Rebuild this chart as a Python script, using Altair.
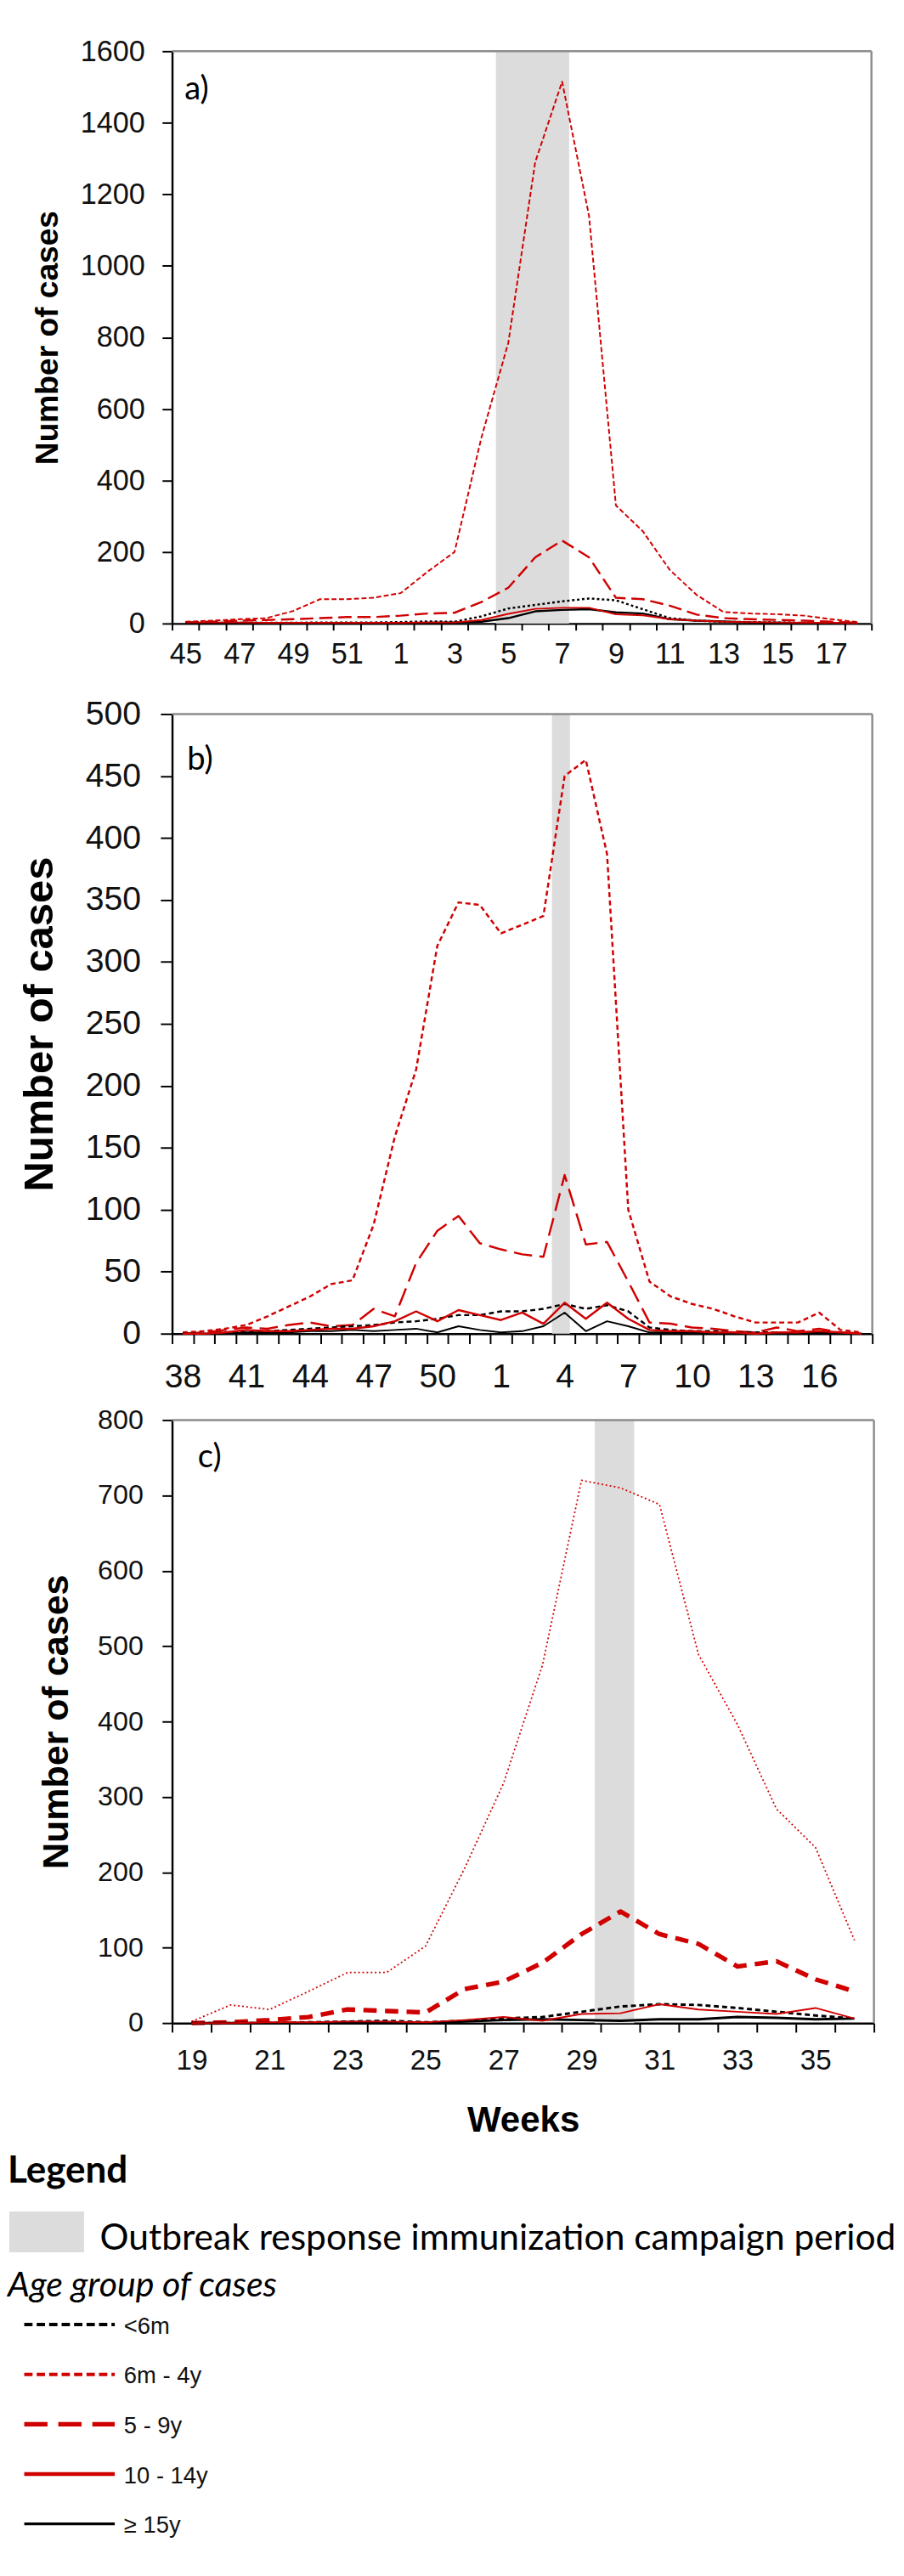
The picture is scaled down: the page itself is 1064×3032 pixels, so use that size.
import altair as alt
import pandas as pd

# ---------------- data ----------------
groups = ["<6m", "6m - 4y", "5 - 9y", "10 - 14y", "≥ 15y"]

weeks_a = [45, 46, 47, 48, 49, 50, 51, 52, 1, 2, 3, 4, 5, 6, 7, 8, 9, 10, 11, 12, 13, 14, 15, 16, 17, 18]
a_lt6m = [2, 2, 2, 2, 2, 3, 3, 3, 4, 6, 5, 20, 42, 52, 62, 70, 65, 40, 15, 8, 5, 4, 3, 2, 1, 0]
a_6m4y = [5, 8, 12, 15, 35, 68, 68, 72, 85, 145, 200, 520, 785, 1290, 1515, 1140, 330, 258, 150, 80, 32, 28, 26, 22, 12, 4]
a_5_9y = [3, 5, 8, 10, 12, 15, 18, 18, 22, 28, 30, 60, 100, 185, 232, 185, 72, 68, 50, 25, 15, 12, 10, 8, 5, 2]
a_10_14y = [3, 3, 3, 2, 2, 2, 2, 2, 2, 3, 3, 10, 27, 41, 44, 44, 26, 23, 12, 8, 5, 4, 3, 2, 2, 1]
a_15y = [1, 1, 1, 1, 1, 1, 1, 1, 1, 2, 3, 5, 15, 34, 38, 40, 31, 28, 12, 8, 6, 3, 2, 1, 1, 0]
a_campaign = [12.04, 14.76]

weeks_b = [38, 39, 40, 41, 42, 43, 44, 45, 46, 47, 48, 49, 50, 51, 52, 1, 2, 3, 4, 5, 6, 7, 8, 9, 10, 11, 12, 13, 14, 15, 16, 17, 18]
b_lt6m = [0, 0, 1, 1, 2, 3, 4, 5, 6, 7, 9, 10, 12, 15, 15, 18, 18, 20, 24, 20, 23, 18, 5, 3, 2, 2, 1, 1, 1, 1, 1, 0, 0]
b_6m4y = [1, 2, 4, 7, 14, 22, 30, 40, 43, 88, 159, 213, 313, 348, 346, 323, 330, 337, 450, 463, 387, 100, 42, 30, 24, 20, 14, 9, 9, 9, 17, 3, 1]
b_5_9y = [0, 1, 3, 5, 4, 7, 9, 6, 7, 20, 14, 57, 83, 95, 73, 68, 64, 62, 128, 72, 74, 42, 9, 8, 5, 4, 2, 1, 5, 2, 4, 1, 0]
b_10_14y = [0, 0, 1, 3, 2, 2, 3, 4, 4, 6, 10, 18, 10, 19, 15, 11, 17, 8, 25, 12, 25, 12, 3, 2, 2, 1, 1, 0, 1, 1, 2, 1, 0]
b_15y = [0, 0, 0, 1, 1, 1, 2, 2, 3, 2, 3, 4, 1, 6, 3, 1, 2, 6, 17, 2, 10, 6, 1, 1, 1, 0, 0, 0, 0, 0, 1, 0, 0]
b_campaign = [17.9, 18.75]

weeks_c = [19, 20, 21, 22, 23, 24, 25, 26, 27, 28, 29, 30, 31, 32, 33, 34, 35, 36]
c_lt6m = [0, 0, 0, 1, 2, 3, 1, 3, 6, 8, 15, 22, 25, 24, 20, 15, 10, 6]
c_6m4y = [2, 24, 18, 42, 67, 67, 102, 205, 318, 475, 720, 710, 688, 489, 396, 284, 233, 110]
c_5_9y = [0, 1, 4, 8, 18, 16, 14, 45, 55, 80, 118, 148, 118, 105, 75, 82, 58, 42]
c_10_14y = [0, 0, 1, 1, 2, 2, 1, 4, 8, 3, 12, 13, 25, 18, 15, 12, 20, 6]
c_15y = [0, 0, 0, 0, 1, 1, 0, 2, 4, 5, 4, 3, 5, 5, 8, 7, 5, 6]
c_campaign = [10.84, 11.85]

legend_title = "Legend"
campaign_label = "Outbreak response immunization campaign period"
age_title = "Age group of cases"
y_title = "Number of cases"
x_title = "Weeks"

# ---------------- styles ----------------
RED = "#d00000"
BLACK = "#000000"
SHADE = "#dcdcdc"
BORDER = "#8c8c8c"
AXFONT = "Liberation Sans"
NARROW = "Liberation Sans Narrow, Arial Narrow, Liberation Sans"
HUMFONT = "Lato"
LEFT = 198  # distance from the page margin to the plot origin of the panels

style_a = {
    "<6m": (BLACK, [3, 3], 2.5),
    "6m - 4y": (RED, [6, 3], 2),
    "5 - 9y": (RED, [16, 7], 2.5),
    "10 - 14y": (RED, None, 2),
    "≥ 15y": (BLACK, None, 2.5),
}
style_b = {
    "<6m": (BLACK, [6, 4], 2.5),
    "6m - 4y": (RED, [6, 4], 2.5),
    "5 - 9y": (RED, [22, 9], 2.5),
    "10 - 14y": (RED, None, 2.5),
    "≥ 15y": (BLACK, None, 2),
}
style_c = {
    "<6m": (BLACK, [6, 4], 3),
    "6m - 4y": (RED, [2, 3], 1.8),
    "5 - 9y": (RED, [16, 10], 5.5),
    "10 - 14y": (RED, None, 2),
    "≥ 15y": (BLACK, None, 3),
}
style_leg = {
    "<6m": (BLACK, [10, 5], 4),
    "6m - 4y": (RED, [10, 5], 4),
    "5 - 9y": (RED, [28, 13], 5.5),
    "10 - 14y": (RED, None, 4.5),
    "≥ 15y": (BLACK, None, 3.5),
}
draw_order = ["6m - 4y", "5 - 9y", "<6m", "≥ 15y", "10 - 14y"]


def mark_kw(st):
    color, dash, width = st
    kw = dict(color=color, strokeWidth=width)
    if dash:
        kw["strokeDash"] = dash
    return kw


def panel(weeks, series, campaign, ymax, ystep, label_step, tag, st, lay):
    n = len(weeks)
    rows = []
    for g, vals in zip(groups, series):
        for i, (w, v) in enumerate(zip(weeks, vals)):
            rows.append({"g": g, "week": str(w), "pos": i + 0.5, "cases": v})
    df = pd.DataFrame(rows)
    W, H = lay["W"], lay["H"]
    xscale = alt.Scale(domain=[0, n], nice=False, zero=False)
    yscale = alt.Scale(domain=[0, ymax], nice=False)
    labels = [str(weeks[i]) if (i < n and i % label_step == 0) else "" for i in range(n + 1)]
    label_expr = "[" + ",".join("'%s'" % s for s in labels) + "][datum.value]"
    xaxis_kw = dict(
        values=list(range(n + 1)), labelExpr=label_expr, labelOffset=W / n / 2,
        labelFont=lay["font"], labelFontSize=lay["xlfs"], labelColor="#111111",
        labelPadding=lay["xlp"], labelOverlap=False, labelFlush=False,
        tickSize=lay["xts"], tickWidth=2, tickColor=BLACK,
        domainColor=BLACK, domainWidth=2.5, grid=False,
    )
    if lay.get("xtitle"):
        xaxis_kw.update(title=lay["xtitle"], titleFont=AXFONT, titleFontSize=43,
                        titleFontWeight="bold", titlePadding=lay["xtp"], titleColor=BLACK)
    else:
        xaxis_kw.update(title=None)
    xaxis = alt.Axis(**xaxis_kw)
    yaxis = alt.Axis(
        values=list(range(0, ymax + 1, ystep)), format="d", title=y_title,
        titleFont=AXFONT, titleFontSize=lay["ytfs"], titleFontWeight="bold",
        titlePadding=lay["ytp"], titleColor=BLACK,
        labelFont=lay["font"], labelFontSize=lay["ylfs"], labelColor="#111111",
        labelPadding=lay["ylp"], labelOverlap=False, labelFlush=False,
        tickSize=lay["yts"], tickWidth=2, tickColor=BLACK,
        domainColor=BLACK, domainWidth=2.5, grid=False,
    )
    X = lambda f: alt.X(f, scale=xscale, axis=xaxis)
    Y = lambda f: alt.Y(f, scale=yscale, axis=yaxis)

    shade = alt.Chart(pd.DataFrame({"x0": [campaign[0]], "x1": [campaign[1]],
                                    "y0": [0], "y1": [ymax]})).mark_rect(color=SHADE).encode(
        x=X("x0:Q"), x2="x1:Q", y=Y("y1:Q"), y2="y0:Q")

    lines = []
    for g in draw_order:
        lines.append(
            alt.Chart(df[df["g"] == g]).mark_line(strokeJoin="round", **mark_kw(st[g])).encode(
                x=X("pos:Q"), y=Y("cases:Q"))
        )

    top = alt.Chart(pd.DataFrame({"v": [ymax]})).mark_rule(color=BORDER, strokeWidth=2.5).encode(
        y=Y("v:Q"))
    right = alt.Chart(pd.DataFrame({"v": [n]})).mark_rule(color=BORDER, strokeWidth=2.5).encode(
        x=X("v:Q"))

    tagc = alt.Chart(pd.DataFrame({"t": [tag]})).mark_text(
        align="left", baseline="middle", font=HUMFONT, fontSize=39, color=BLACK).encode(
        text="t:N", x=alt.value(lay["tx"]), y=alt.value(lay["ty"]))

    # invisible rule that fixes the panel's outer extent (left, top, bottom)
    bound = alt.Chart(pd.DataFrame({"k": [0]})).mark_rule(opacity=0, strokeOpacity=0).encode(
        x=alt.value(lay["bx"]), y=alt.value(lay["by1"]), y2=alt.value(lay["by2"]))

    return alt.layer(shade, *lines, top, right, tagc, bound).properties(width=W, height=H)


pa = panel(weeks_a, [a_lt6m, a_6m4y, a_5_9y, a_10_14y, a_15y], a_campaign, 1600, 200, 2, "a)", style_a,
           dict(W=842, H=689, font=NARROW, xlfs=35, xlp=12, xts=8, ytfs=38, ytp=19, ylfs=35, ylp=21, yts=12,
                bx=-198, by1=-18, by2=759, tx=15, ty=46))
pb = panel(weeks_b, [b_lt6m, b_6m4y, b_5_9y, b_10_14y, b_15y], b_campaign, 500, 50, 3, "b)", style_b,
           dict(W=843, H=746, font=AXFONT, xlfs=40, xlp=20, xts=12, ytfs=50, ytp=30, ylfs=40, ylp=24, yts=14,
                bx=-196, by1=-37, by2=823, tx=18, ty=55))
pc = panel(weeks_c, [c_lt6m, c_6m4y, c_5_9y, c_10_14y, c_15y], c_campaign, 800, 100, 2, "c)", style_c,
           dict(W=845, H=726, font=AXFONT, xlfs=34, xlp=18, xts=11, ytfs=44, ytp=27, ylfs=33, ylp=23, yts=12,
                bx=-184, by1=-25, by2=875, tx=31, ty=45, xtitle=x_title, xtp=33))

# ---------------- legend panel ----------------
leg_df = pd.DataFrame({"g": groups, "idx": list(range(len(groups)))})
lscale = alt.Scale(domain=[0, len(groups) - 1], range=[212, 452])

leg_layers = []
leg_layers.append(alt.Chart(pd.DataFrame({"t": [legend_title]})).mark_text(
    align="left", baseline="alphabetic", font=HUMFONT, fontWeight="bold", fontSize=45, color=BLACK).encode(
    text="t:N", x=alt.value(-LEFT), y=alt.value(41)))
leg_layers.append(alt.Chart(pd.DataFrame({"k": [0]})).mark_rect(color=SHADE).encode(
    x=alt.value(-LEFT + 2), x2=alt.value(-LEFT + 92), y=alt.value(76), y2=alt.value(125)))
leg_layers.append(alt.Chart(pd.DataFrame({"t": [campaign_label]})).mark_text(
    align="left", baseline="alphabetic", font=HUMFONT, fontSize=43.5, color=BLACK).encode(
    text="t:N", x=alt.value(-LEFT + 111), y=alt.value(122)))
leg_layers.append(alt.Chart(pd.DataFrame({"t": [age_title]})).mark_text(
    align="left", baseline="alphabetic", font=HUMFONT, fontStyle="italic", fontSize=42, color=BLACK).encode(
    text="t:N", x=alt.value(-LEFT), y=alt.value(178)))
for g in groups:
    leg_layers.append(alt.Chart(leg_df[leg_df["g"] == g]).mark_rule(**mark_kw(style_leg[g])).encode(
        x=alt.value(-LEFT + 20), x2=alt.value(-LEFT + 129), y=alt.Y("idx:Q", scale=lscale, axis=None)))
leg_layers.append(alt.Chart(leg_df).mark_text(
    align="left", baseline="middle", font=AXFONT, fontSize=28, dy=3, color="#111111").encode(
    text="g:N", x=alt.value(-LEFT + 140), y=alt.Y("idx:Q", scale=lscale, axis=None)))

legend = alt.layer(*leg_layers).properties(width=600, height=440)

chart = alt.vconcat(pa, pb, pc, legend, spacing=0).properties(padding=0).configure_view(
    stroke="transparent")

chart.save("out.html", embed_options={"renderer": "svg", "actions": False})
